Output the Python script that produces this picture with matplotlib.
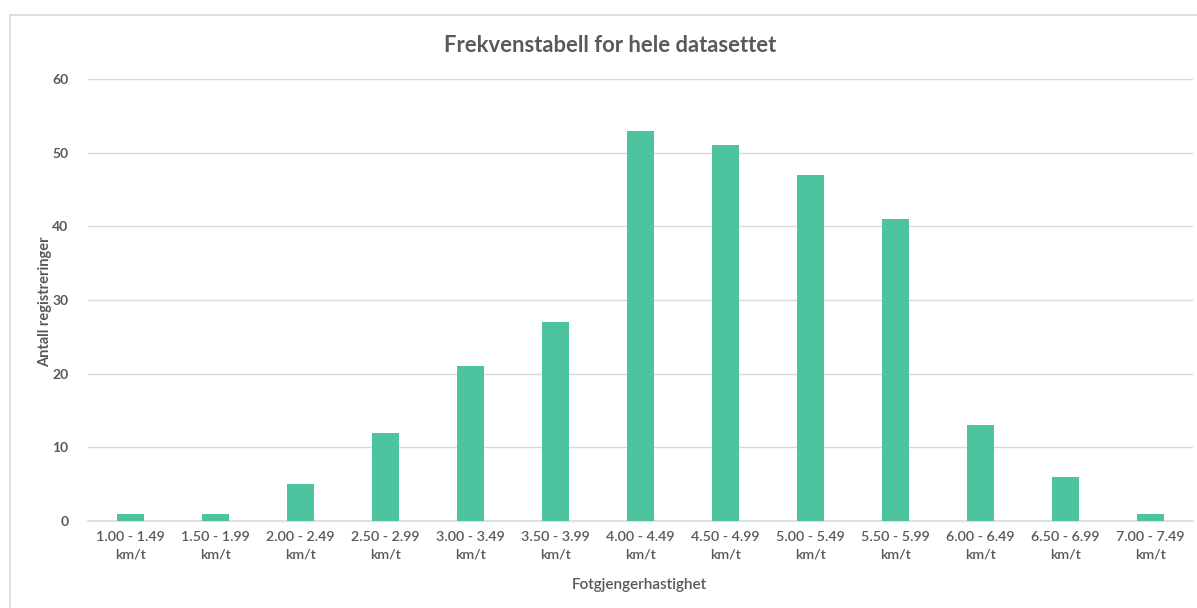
import matplotlib.pyplot as plt
from matplotlib.patches import Rectangle

plt.rcParams['font.family'] = ['Lato', 'DejaVu Sans']

# frekvenstabell
intervaller = ['1.00 - 1.49', '1.50 - 1.99', '2.00 - 2.49', '2.50 - 2.99',
               '3.00 - 3.49', '3.50 - 3.99', '4.00 - 4.49', '4.50 - 4.99',
               '5.00 - 5.49', '5.50 - 5.99', '6.00 - 6.49', '6.50 - 6.99',
               '7.00 - 7.49']
antall = [1, 1, 5, 12, 21, 27, 53, 51, 47, 41, 13, 6, 1]
yticks = [0, 10, 20, 30, 40, 50, 60]

grå = '#595959'
fig = plt.figure(figsize=(11.97, 6.08), dpi=100)

# ramme rundt diagrammet
fig.patches.append(Rectangle((10 / 1197, -0.1), 1.2, 1 - 15 / 608 + 0.1,
                             transform=fig.transFigure, fill=False,
                             edgecolor='#d9d9d9', lw=1.2))

ax = fig.add_axes([88 / 1197, 1 - 521 / 608, (1193 - 88) / 1197, (521 - 79) / 608])
x = range(len(intervaller))
ax.bar(x, antall, width=0.32, color='#4dc3a0', zorder=3)

ax.set_xlim(-0.5, len(intervaller) - 0.5)
ax.set_ylim(0, 60)
ax.set_yticks(yticks)
ax.set_xticks(list(x))
ax.set_xticklabels([f'{s}\nkm/t' for s in intervaller], fontsize=10.3,
                   color=grå, fontweight='semibold', linespacing=1.6)
ax.tick_params(axis='y', labelsize=10, labelcolor=grå, length=0, pad=14)
ax.tick_params(axis='x', length=0, pad=7)
for lbl in ax.get_yticklabels():
    lbl.set_fontweight('bold')

ax.grid(axis='y', color='#d9d9d9', lw=1, zorder=0)
for s in ['top', 'right', 'left']:
    ax.spines[s].set_visible(False)
ax.spines['bottom'].set_color('#d9d9d9')
ax.spines['bottom'].set_linewidth(1.2)

fig.text(0.5098, 1 - 45 / 608, 'Frekvenstabell for hele datasettet', ha='center',
         va='center', fontsize=15.8, fontweight='bold', color=grå)
fig.text(45 / 1197, 1 - 302 / 608, 'Antall registreringer', rotation=90,
         ha='center', va='center', fontsize=10.5, fontweight='bold', color=grå)
fig.text(639 / 1197, 1 - 585 / 608, 'Fotgjengerhastighet', ha='center',
         va='center', fontsize=11, fontweight='semibold', color=grå)

fig.savefig('out.png', dpi=100)
